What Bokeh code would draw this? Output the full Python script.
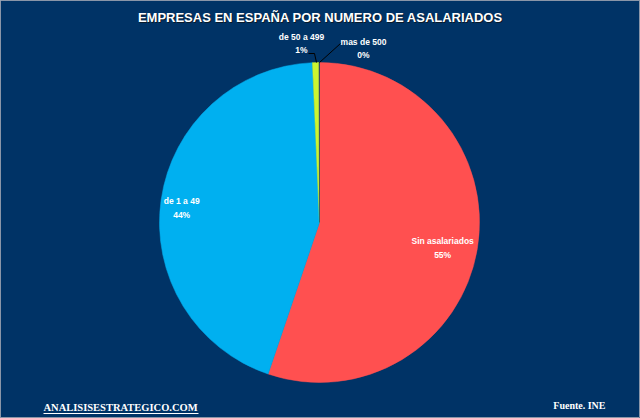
import math
from bokeh.plotting import figure
from bokeh.models import ColumnDataSource
from bokeh.core.properties import value
from bokeh.embed import file_html
from bokeh.resources import INLINE

# ---- data ----
categories = ["Sin asalariados", "de 1 a 49", "de 50 a 499", "mas de 500"]
shares = [55.2, 44.1, 0.65, 0.05]
pct_labels = ["55%", "44%", "1%", "0%"]
colors = ["#FF5050", "#00B0F0", "#CCF531", "#1F3F66"]

title_text = "EMPRESAS EN ESPAÑA POR NUMERO DE ASALARIADOS"
site_text = "ANALISISESTRATEGICO.COM"
source_text = "Fuente. INE"

# ---- layout (pixel space, y measured from the top) ----
W, H = 640, 418
BG = "#003366"
CX, CY, R = 319, 222, 160

def Y(py):
    return H - py

p = figure(width=W, height=H, x_range=(0, W), y_range=(0, H),
           output_backend="svg", toolbar_location=None, min_border=0)
p.axis.visible = False
p.grid.visible = False
p.background_fill_color = BG
p.border_fill_color = BG
p.outline_line_color = "#8A96A8"

total = sum(shares)
starts, ends, mids = [], [], []
acc = 0.0
for s in shares:
    a0 = acc / total
    acc += s
    a1 = acc / total
    starts.append(math.pi / 2 - a0 * 2 * math.pi)
    ends.append(math.pi / 2 - a1 * 2 * math.pi)
    mids.append((a0 + a1) / 2)

src = ColumnDataSource(dict(x=[CX] * len(shares), y=[Y(CY)] * len(shares),
                            start=starts, end=ends, color=colors))
p.wedge(x="x", y="y", radius=R, start_angle="start", end_angle="end",
        direction="clock", fill_color="color", line_color="color",
        line_width=0.5, source=src)

FONT = "'Liberation Sans', Arial, sans-serif"

# inside labels for the two big slices, positioned along the slice middle
inside_r = [0.78, 0.87]
lx, ly, lt = [], [], []
for i in range(2):
    ang = mids[i] * 2 * math.pi
    lx.append(CX + inside_r[i] * R * math.sin(ang))
    ly.append(Y(CY - inside_r[i] * R * math.cos(ang) + 5))
    lt.append(categories[i] + "\n" + pct_labels[i])

# outside labels for the tiny slices
out_pos = [(301, 43), (363, 48)]
for i, (px, py) in zip([2, 3], out_pos):
    lx.append(px)
    ly.append(Y(py))
    lt.append(categories[i] + "\n" + pct_labels[i])

p.text(x=lx, y=ly, text=lt, text_align="center", text_baseline="middle",
       text_color="white", text_font=value(FONT), text_font_style="bold",
       text_font_size="8.5px", text_line_height=1.35)

# leader lines
p.line(x=[308, 314, 316], y=[Y(53), Y(53), Y(62)], line_color="black", line_width=1)
p.line(x=[340, 319], y=[Y(43), Y(62)], line_color="black", line_width=1)

# title
p.text(x=[W / 2 + 1], y=[Y(17) - 1], text=[title_text], text_align="center",
       text_baseline="middle", text_color="#0A1A2A", text_font=value(FONT),
       text_font_style="bold", text_font_size="13px")
p.text(x=[W / 2], y=[Y(17)], text=[title_text], text_align="center",
       text_baseline="middle", text_color="white", text_font=value(FONT),
       text_font_style="bold", text_font_size="13px")

# footer
SERIF = "'Liberation Serif', 'Times New Roman', serif"
p.text(x=[43], y=[Y(407)], text=[site_text], text_align="left",
       text_baseline="middle", text_color="white", text_font=value(SERIF),
       text_font_style="bold", text_font_size="10.5px")
p.line(x=[43, 198], y=[Y(413), Y(413)], line_color="white", line_width=1)
p.text(x=[605], y=[Y(405)], text=[source_text], text_align="right",
       text_baseline="middle", text_color="white", text_font=value(SERIF),
       text_font_style="bold", text_font_size="10px")

open("out.html", "w").write(file_html(p, INLINE))
